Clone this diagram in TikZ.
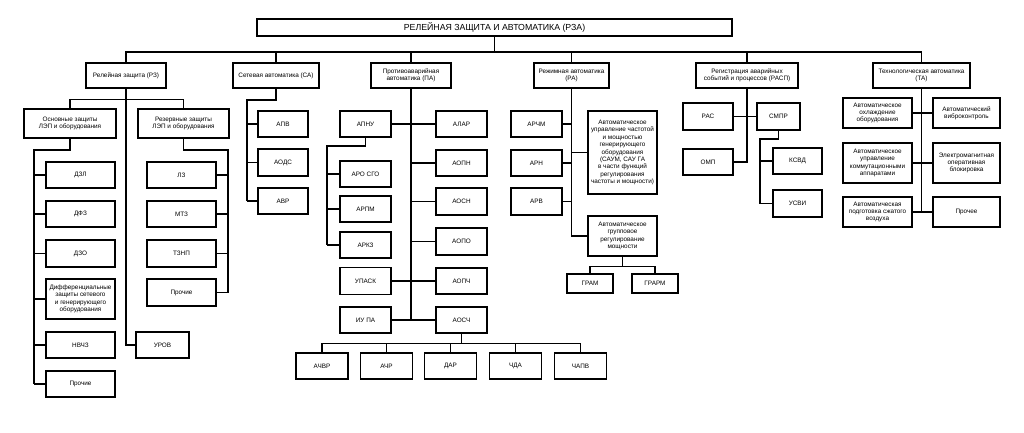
\documentclass[tikz,border=0pt]{standalone}
\usepackage{fontspec}
\setmainfont{Liberation Sans}
\begin{document}
\begin{tikzpicture}[x=1bp,y=-1bp,
  box/.style={draw,line width=1.5bp,inner sep=0pt,align=center,
    font=\fontsize{6.4}{7.4}\selectfont},
  link/.style={line width=1.5bp}]

  \useasboundingbox (0,0) rectangle (1024,432);

  % top
  \node[box,minimum width=477,minimum height=17,
    font=\fontsize{8.8}{9}\selectfont] (rza) at (494.5,27.5)
    {РЕЛЕЙНАЯ ЗАЩИТА И АВТОМАТИКА (РЗА)};
  \coordinate (bus) at (0,52);

  % groups
  \node[box,minimum width=80,minimum height=25] (rz) at (126,75.5)
    {Релейная защита (РЗ)};
  \node[box,minimum width=86,minimum height=25] (sa) at (276,75.5)
    {Сетевая автоматика (СА)};
  \node[box,minimum width=80,minimum height=25] (pa) at (411,75.5)
    {Противоаварийная\\автоматика (ПА)};
  \node[box,minimum width=75,minimum height=25] (ra) at (571.5,75.5)
    {Режимная автоматика\\(РА)};
  \node[box,minimum width=102,minimum height=25] (rasp) at (747,75.5)
    {Регистрация аварийных\\событий и процессов (РАСП)};
  \node[box,minimum width=97,minimum height=25] (ta) at (921.5,75.5)
    {Технологическая автоматика\\(ТА)};

  \draw[link] (rza) -- (rza |- bus);
  \draw[link] (rz.north) |- (ta.north |- bus) -- (ta.north);
  \foreach \g in {sa,pa,ra,rasp}
    \draw[link] (\g.north) -- (\g.north |- bus);

  % relay protection
  \node[box,minimum width=92,minimum height=29] (osn) at (70,123.5)
    {Основные защиты\\ЛЭП и оборудования};
  \node[box,minimum width=91,minimum height=29] (rez) at (183.5,123.5)
    {Резервные защиты\\ЛЭП и оборудования};
  \node[box,minimum width=69,minimum height=26] (dzl) at (80.5,175) {ДЗЛ};
  \node[box,minimum width=69,minimum height=26] (dfz) at (80.5,214) {ДФЗ};
  \node[box,minimum width=69,minimum height=27] (dzo) at (80.5,253.5) {ДЗО};
  \node[box,minimum width=69,minimum height=40] (dif) at (80.5,299)
    {Дифференциальные\\защиты сетевого\\и генерирующего\\оборудования};
  \node[box,minimum width=69,minimum height=26] (nvchz) at (80.5,345) {НВЧЗ};
  \node[box,minimum width=69,minimum height=26] (proch) at (80.5,384) {Прочие};
  \node[box,minimum width=69,minimum height=26] (lz) at (181.5,175) {ЛЗ};
  \node[box,minimum width=69,minimum height=26] (mtz) at (181.5,214) {МТЗ};
  \node[box,minimum width=69,minimum height=27] (tznp) at (181.5,253.5) {ТЗНП};
  \node[box,minimum width=69,minimum height=27] (prochr) at (181.5,292.5) {Прочие};
  \node[box,minimum width=53,minimum height=26] (urov) at (162.5,345) {УРОВ};

  \draw[link] (rz.south) |- (urov.west);
  \draw[link] (osn.north) -- ++(0,-9) -| (rez.north);
  \coordinate (osnc) at (34,150);
  \draw[link] (osn.south) |- (osnc) -- (osnc |- proch.west);
  \foreach \b in {dzl,dfz,dzo,dif,nvchz,proch}
    \draw[link] (osnc |- \b.west) -- (\b.west);
  \coordinate (rezc) at (228,150);
  \draw[link] (rez.south) |- (rezc) -- (rezc |- prochr.east);
  \foreach \b in {lz,mtz,tznp,prochr}
    \draw[link] (rezc |- \b.east) -- (\b.east);

  % network automation
  \node[box,minimum width=50,minimum height=26] (apv) at (283,124) {АПВ};
  \node[box,minimum width=50,minimum height=27] (aods) at (283,162.5) {АОДС};
  \node[box,minimum width=50,minimum height=26] (avr) at (283,201) {АВР};
  \coordinate (sac) at (247,100);
  \draw[link] (sa.south) |- (sac) -- (sac |- avr.west);
  \foreach \b in {apv,aods,avr}
    \draw[link] (sac |- \b.west) -- (\b.west);

  % emergency automation
  \node[box,minimum width=51,minimum height=26] (apnu) at (365.5,124) {АПНУ};
  \node[box,minimum width=51,minimum height=26] (aro) at (365.5,174) {АРО СГО};
  \node[box,minimum width=51,minimum height=26] (arpm) at (365.5,209) {АРПМ};
  \node[box,minimum width=51,minimum height=26] (arkz) at (365.5,245) {АРКЗ};
  \node[box,minimum width=51,minimum height=27] (upask) at (365.5,281) {УПАСК};
  \node[box,minimum width=51,minimum height=26] (iupa) at (365.5,320) {ИУ ПА};
  \node[box,minimum width=51,minimum height=26] (alar) at (461.5,124) {АЛАР};
  \node[box,minimum width=51,minimum height=26] (aopn) at (461.5,163) {АОПН};
  \node[box,minimum width=51,minimum height=27] (aosn) at (461.5,201.5) {АОСН};
  \node[box,minimum width=51,minimum height=27] (aopo) at (461.5,241.5) {АОПО};
  \node[box,minimum width=51,minimum height=26] (aopch) at (461.5,281) {АОПЧ};
  \node[box,minimum width=51,minimum height=26] (aosch) at (461.5,320) {АОСЧ};
  \node[box,minimum width=52,minimum height=26] (achvr) at (322,366) {АЧВР};
  \node[box,minimum width=52,minimum height=26] (achr) at (386.5,366) {АЧР};
  \node[box,minimum width=52,minimum height=26] (dar) at (450.5,366) {ДАР};
  \node[box,minimum width=52,minimum height=26] (chda) at (515.5,366) {ЧДА};
  \node[box,minimum width=52,minimum height=26] (chapv) at (580.5,366) {ЧАПВ};

  \draw[link] (pa.south) -- (pa.south |- aosch.west);
  \draw[link] (apnu.east) -- (alar.west);
  \draw[link] (upask.east) -- (aopch.west);
  \draw[link] (iupa.east) -- (aosch.west);
  \foreach \b in {aopn,aosn,aopo}
    \draw[link] (pa.south |- \b.west) -- (\b.west);
  \coordinate (apnuc) at (327,146);
  \draw[link] (apnu.south) |- (apnuc) -- (apnuc |- arkz.west);
  \foreach \b in {aro,arpm,arkz}
    \draw[link] (apnuc |- \b.west) -- (\b.west);
  \draw[link] (aosch.south) -- ++(0,10) coordinate (pabus);
  \draw[link] (achvr.north) |- (chapv.north |- pabus) -- (chapv.north);
  \foreach \b in {achr,dar,chda}
    \draw[link] (\b.north) -- (\b.north |- pabus);

  % regime automation
  \node[box,minimum width=51,minimum height=26] (archm) at (536.5,124) {АРЧМ};
  \node[box,minimum width=51,minimum height=26] (arn) at (536.5,163) {АРН};
  \node[box,minimum width=51,minimum height=27] (arv) at (536.5,201.5) {АРВ};
  \node[box,minimum width=69,minimum height=83] (saum) at (622.5,152.5)
    {Автоматическое\\управление частотой\\и мощностью\\генерирующего\\оборудования\\(САУМ, САУ ГА\\в части функций\\регулирования\\частоты и мощности)};
  \node[box,minimum width=69,minimum height=40] (grp) at (622.5,236)
    {Автоматическое\\групповое\\регулирование\\мощности};
  \node[box,minimum width=46,minimum height=19] (gram) at (590,283.5) {ГРАМ};
  \node[box,minimum width=46,minimum height=19] (grarm) at (655,283.5) {ГРАРМ};

  \draw[link] (ra.south) |- (grp.west);
  \draw[link] (ra.south |- saum.west) -- (saum.west);
  \foreach \b in {archm,arn,arv}
    \draw[link] (ra.south |- \b.east) -- (\b.east);
  \draw[link] (grp.south) -- ++(0,10) coordinate (grpbus);
  \draw[link] (gram.north) |- (grarm.north |- grpbus) -- (grarm.north);

  % event recording
  \node[box,minimum width=50,minimum height=27] (ras) at (708,116.5) {РАС};
  \node[box,minimum width=43,minimum height=27] (smpr) at (778.5,116.5) {СМПР};
  \node[box,minimum width=50,minimum height=26] (omp) at (708,162) {ОМП};
  \node[box,minimum width=49,minimum height=26] (ksvd) at (797.5,161) {КСВД};
  \node[box,minimum width=49,minimum height=27] (usvi) at (797.5,203.5) {УСВИ};

  \draw[link] (rasp.south) |- (omp.east);
  \draw[link] (ras.east) -- (smpr.west);
  \coordinate (smprc) at (760,139);
  \draw[link] (smpr.south) |- (smprc) -- (smprc |- usvi.west);
  \foreach \b in {ksvd,usvi}
    \draw[link] (smprc |- \b.west) -- (\b.west);

  % technological automation
  \node[box,minimum width=69,minimum height=30] (tla) at (877.5,113)
    {Автоматическое\\охлаждение\\оборудования};
  \node[box,minimum width=69,minimum height=40] (tlb) at (877.5,163)
    {Автоматическое\\управление\\коммутационными\\аппаратами};
  \node[box,minimum width=69,minimum height=30] (tlc) at (877.5,212)
    {Автоматическая\\подготовка сжатого\\воздуха};
  \node[box,minimum width=67,minimum height=30] (tra) at (966.5,113)
    {Автоматический\\виброконтроль};
  \node[box,minimum width=67,minimum height=40] (trb) at (966.5,163)
    {Электромагнитная\\оперативная\\блокировка};
  \node[box,minimum width=67,minimum height=30] (trc) at (966.5,212)
    {Прочее};

  \draw[link] (ta.south) -- (ta.south |- tlc.east);
  \draw[link] (tla.east) -- (tra.west);
  \draw[link] (tlb.east) -- (trb.west);
  \draw[link] (tlc.east) -- (trc.west);
\end{tikzpicture}
\end{document}
